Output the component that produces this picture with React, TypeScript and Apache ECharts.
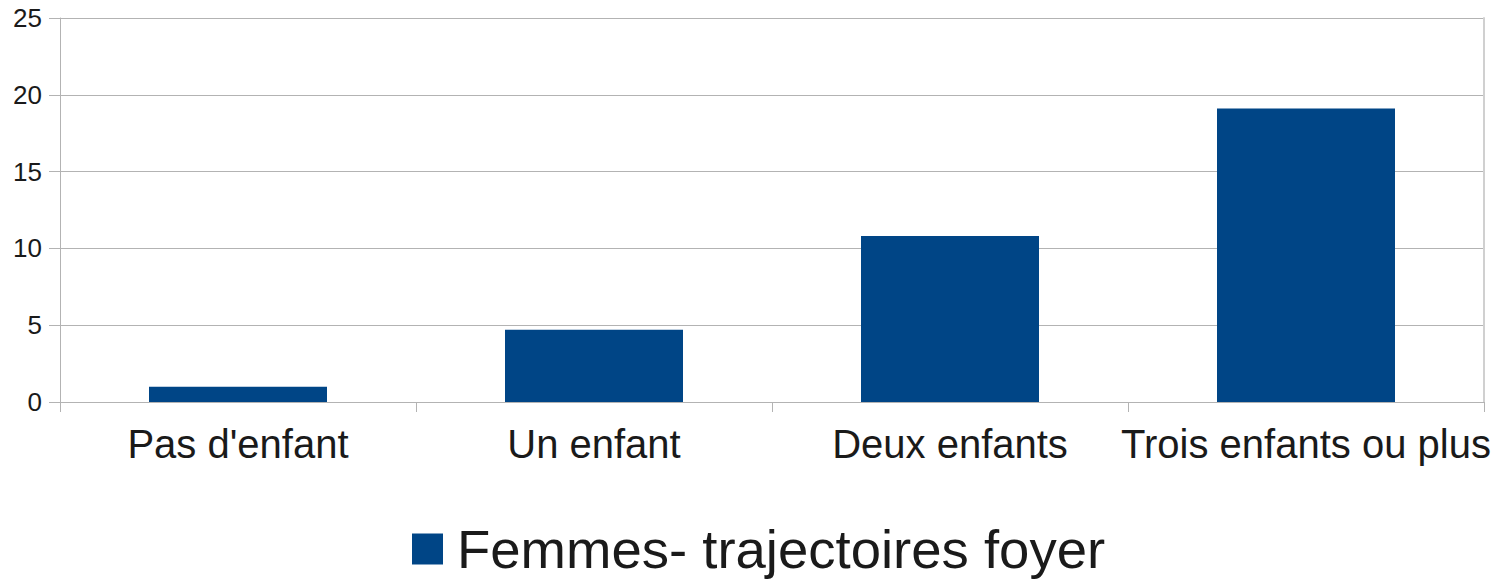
import React, { useEffect, useRef } from "react";
import * as echarts from "echarts";

const categories = ["Pas d'enfant", "Un enfant", "Deux enfants", "Trois enfants ou plus"];
const seriesName = "Femmes- trajectoires foyer";
const values = [1.0, 4.7, 10.8, 19.1];
const yMin = 0;
const yMax = 25;
const yInterval = 5;

export default function App() {
  const ref = useRef<HTMLDivElement>(null);
  useEffect(() => {
    if (!ref.current) return;
    const chart = echarts.init(ref.current, null, { renderer: "svg" });
    const font = "'Liberation Sans', Arial, sans-serif";
    chart.setOption({
      animation: false,
      backgroundColor: "#ffffff",
      textStyle: { fontFamily: font },
      grid: { left: 60, right: 16, top: 18, bottom: 178, containLabel: false },
      legend: {
        show: true,
        left: 412,
        top: 521,
        padding: 0,
        itemWidth: 31,
        itemHeight: 31,
        icon: "rect",
        textStyle: { fontSize: 54.5, lineHeight: 56, color: "#1a1a1a", fontFamily: font, padding: [0, 0, 0, 9] },
        data: [seriesName],
      },
      xAxis: {
        type: "category",
        data: categories,
        axisLine: { show: true, lineStyle: { color: "#b3b3b3", width: 1 } },
        axisTick: { show: true, length: 10, alignWithLabel: false, lineStyle: { color: "#b3b3b3" } },
        axisLabel: { fontSize: 40, color: "#1a1a1a", margin: 22, fontFamily: font, interval: 0 },
        splitLine: { show: false },
      },
      yAxis: [
        {
          type: "value",
          min: yMin,
          max: yMax,
          interval: yInterval,
          axisLine: { show: true, lineStyle: { color: "#b3b3b3" } },
          axisTick: { show: true, length: 11, lineStyle: { color: "#b3b3b3" } },
          axisLabel: { fontSize: 26, color: "#1a1a1a", margin: 18, fontFamily: font },
          splitLine: { show: true, lineStyle: { color: "#b3b3b3", width: 1 } },
        },
        {
          type: "value",
          position: "right",
          min: yMin,
          max: yMax,
          interval: yInterval,
          axisLine: { show: true, lineStyle: { color: "#d0d0d0", width: 2 } },
          axisTick: { show: false },
          axisLabel: { show: false },
          splitLine: { show: false },
        },
      ],
      series: [
        {
          name: seriesName,
          type: "bar",
          data: values,
          barCategoryGap: "50%",
          itemStyle: { color: "#004586" },
        },
      ],
    });
    return () => chart.dispose();
  }, []);
  return (
    <div
      ref={ref}
      style={{ position: "fixed", left: 0, top: 0, width: 1500, height: 580, background: "#fff" }}
    />
  );
}
